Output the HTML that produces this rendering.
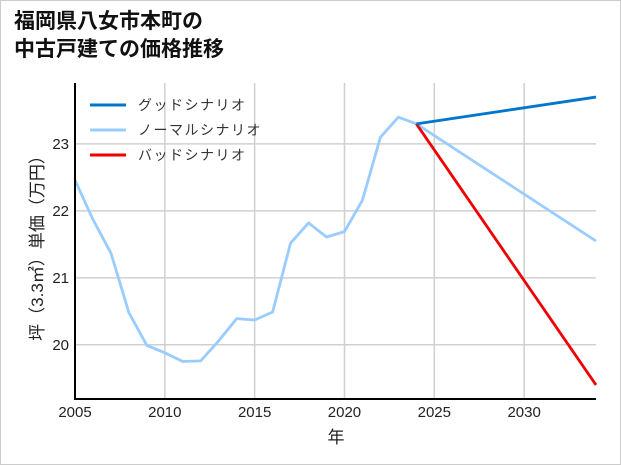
<!DOCTYPE html>
<html><head><meta charset="utf-8"><style>
body{margin:0;background:#fff;}
#wrap{position:relative;width:619px;height:463px;border:1px solid #ccc;background:#fff;font-family:"Liberation Sans","Noto Sans CJK JP",sans-serif;}
.title{position:absolute;left:13px;top:7px;font-size:21px;font-weight:bold;line-height:28px;color:#111;}
svg text{font-family:"Liberation Sans","Noto Sans CJK JP",sans-serif;}
</style></head><body>
<div id="wrap">
<div class="title">福岡県八女市本町の<br>中古戸建ての価格推移</div>
<svg id="chart" width="619" height="463" style="position:absolute;left:0;top:0"></svg>
</div>
<script>
const years=[2005,2006,2007,2008,2009,2010,2011,2012,2013,2014,2015,2016,2017,2018,2019,2020,2021,2022,2023,2024];
const normalValues=[22.46,21.87,21.37,20.48,19.99,19.88,19.75,19.76,20.06,20.39,20.37,20.49,21.52,21.82,21.61,21.69,22.16,23.1,23.4,23.3];
const projYears=[2024,2034];
const goodValues=[23.3,23.70];
const normalProj=[23.3,21.55];
const badValues=[23.3,19.40];
const xTicks=[2005,2010,2015,2020,2025,2030];
const yTicks=[20,21,22,23];
const svg=document.getElementById('chart');
const NS='http://www.w3.org/2000/svg';
const L=74,R=595,T=82,B=398;
const xMin=2005,xMax=2034,yMin=19.19,yMax=23.91;
const xs=v=>L+(v-xMin)/(xMax-xMin)*(R-L);
const ys=v=>B-(v-yMin)/(yMax-yMin)*(B-T);
function mk(tag,attrs,parent){const e=document.createElementNS(NS,tag);for(const k in attrs)e.setAttribute(k,attrs[k]);(parent||svg).appendChild(e);return e;}
xTicks.forEach(t=>{
 const g=mk('line',{x1:xs(t),x2:xs(t),y1:T,y2:B,stroke:'#d0d0d0','stroke-width':1.5});
 
 
 const tx=mk('text',{x:xs(t),y:B+18,'text-anchor':'middle','font-size':15,fill:'#222'});tx.textContent=t;
 
 
});
yTicks.forEach(t=>{
 const g=mk('line',{x1:L,x2:R,y1:ys(t),y2:ys(t),stroke:'#d0d0d0','stroke-width':1.5});
 
 
 const tx=mk('text',{x:L-6,y:ys(t)+5,'text-anchor':'end','font-size':15,fill:'#222'});tx.textContent=t;
 
 
});
function line(xv,yv,color,name){
 const p=mk('polyline',{points:xv.map((x,i)=>xs(x)+','+ys(yv[i])).join(' '),fill:'none',stroke:color,'stroke-width':2.8,'stroke-linejoin':'round'});
 
 
}
line(years,normalValues,'#99ccff','normal-history-line');
line(projYears,normalProj,'#99ccff','normal-scenario-line');
line(projYears,badValues,'#ee0000','bad-scenario-line');
line(projYears,goodValues,'#0077cc','good-scenario-line');
const ax=mk('path',{d:`M${L},${T} V${B} H${R}`,fill:'none',stroke:'#000','stroke-width':2});


const xl=mk('text',{x:335,y:442,'text-anchor':'middle','font-size':17,fill:'#222'});xl.textContent='年';


const yl=mk('text',{x:0,y:0,'text-anchor':'middle','font-size':17,fill:'#222',transform:'translate(42,243) rotate(-90)'});yl.textContent='坪（3.3㎡）単価（万円）';


const leg=[['グッドシナリオ','#0077cc'],['ノーマルシナリオ','#99ccff'],['バッドシナリオ','#ee0000']];
leg.forEach((d,i)=>{
 const y=104+i*25;
 const l=mk('line',{x1:89,x2:125,y1:y,y2:y,stroke:d[1],'stroke-width':3});
 
 
 const t=mk('text',{x:137,y:y+5,'font-size':14,fill:'#333','letter-spacing':'1.5'});t.textContent=d[0];
 
 
});
</script>
</body></html>
